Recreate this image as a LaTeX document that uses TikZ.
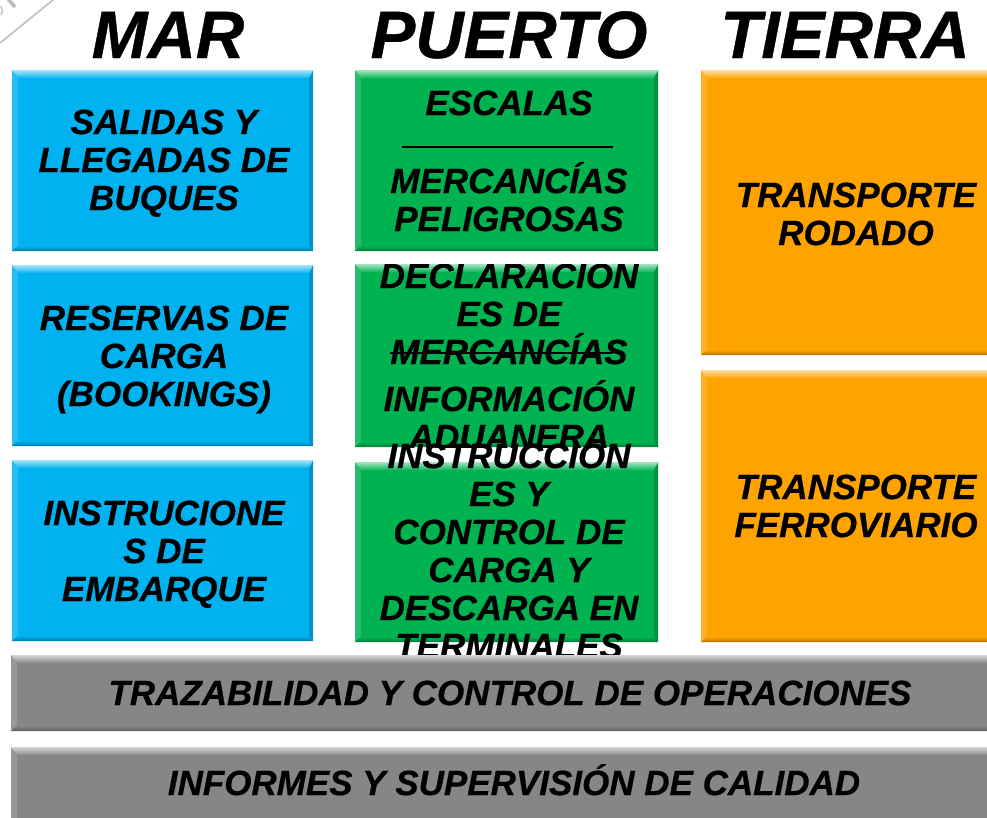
\documentclass[tikz,border=0pt]{standalone}
\usepackage{fontspec}
\setmainfont{Liberation Sans}
\newfontfamily\boxfont[FakeBold=0.6]{Liberation Sans}
\newfontfamily\headfont[FakeBold=0.6]{Liberation Sans}
\definecolor{mblue}{RGB}{0,178,240}
\definecolor{mgreen}{RGB}{0,178,80}
\definecolor{morange}{RGB}{255,163,0}
\definecolor{mgray}{RGB}{134,134,134}
\definecolor{stampgray}{RGB}{190,190,190}
\tikzset{
  panel/.style={inner sep=0pt, outer sep=0pt, draw=none, anchor=north west},
  txt/.style={inner sep=0pt, font=\boxfont\bfseries\itshape\fontsize{35}{38}\selectfont, anchor=base},
  headtxt/.style={inner sep=0pt, font=\headfont\bfseries\itshape\fontsize{67}{70}\selectfont, anchor=base},
  sepline/.style={line width=1.6pt, black},
}
\newcommand\bevel[2]{%
  \fill[#2!85!white] (#1.north west) -- ([xshift=6pt,yshift=-8pt]#1.north west) -- ([xshift=6pt,yshift=5pt]#1.south west) -- (#1.south west) -- cycle;
  \fill[#2!82!black] (#1.north east) -- ([xshift=-4pt,yshift=-8pt]#1.north east) -- ([xshift=-4pt,yshift=5pt]#1.south east) -- (#1.south east) -- cycle;
  \shade[top color=#2, bottom color=#2!70!black] ([xshift=5pt,yshift=5pt]#1.south west) -- ([xshift=-4pt,yshift=5pt]#1.south east) -- (#1.south east) -- (#1.south west) -- cycle;
  \shade[top color=#2!35!white, bottom color=#2!95!white] (#1.north west) -- (#1.north east) -- ([xshift=-4pt,yshift=-8pt]#1.north east) -- ([xshift=6pt,yshift=-8pt]#1.north west) -- cycle;
}
\newcommand\boxlines[4]{%
  \foreach \t [count=\i from 0] in {#4} {\node[txt] (#3-\i) at (#1, #2+38*\i) {\t};}%
}
\begin{document}
\begin{tikzpicture}[x=1pt, y=-1pt]
\useasboundingbox (0,0) rectangle (987,817);
\begin{scope}
\clip (0,0) rectangle (987,817);
\fill[white] (0,0) rectangle (987,817);
% stamp remnants
\draw[stampgray, line width=1.6pt] (0,43) -- (53,0);
\draw[stampgray, line width=3.5pt] (8,-1) -- (15,7);
\draw[stampgray!70, line width=2pt] (0,6) .. controls (3,8) and (3,12) .. (1,15);
% headers
\node[headtxt] (hmar) at (168,58) {MAR};
\node[headtxt] (hpuerto) at (509,58) {PUERTO};
\node[headtxt] (htierra) at (845,58) {TIERRA};
% blue column
\node[panel, fill=mblue, minimum width=301pt, minimum height=181pt] (b1) at (12,70) {};
\node[panel, fill=mblue, minimum width=301pt, minimum height=181pt] (b2) at (12,265) {};
\node[panel, fill=mblue, minimum width=301pt, minimum height=181pt] (b3) at (12,460) {};
\bevel{b1}{mblue}\bevel{b2}{mblue}\bevel{b3}{mblue}
\boxlines{164}{134}{tb1}{SALIDAS Y, LLEGADAS DE, BUQUES}
\boxlines{164}{330}{tb2}{RESERVAS DE, CARGA, (BOOKINGS)}
\boxlines{164}{525}{tb3}{INSTRUCIONE, S DE, EMBARQUE}
% orange column
\node[panel, fill=morange, minimum width=310pt, minimum height=285pt] (o1) at (701,70) {};
\node[panel, fill=morange, minimum width=310pt, minimum height=272pt] (o2) at (701,370) {};
\bevel{o1}{morange}\bevel{o2}{morange}
\boxlines{856}{207}{to1}{TRANSPORTE, RODADO}
\boxlines{856}{499}{to2}{TRANSPORTE, FERROVIARIO}
% green column
\node[panel, fill=mgreen, minimum width=303pt, minimum height=181pt] (g1) at (355,70) {};
\node[panel, fill=mgreen, minimum width=303pt, minimum height=183pt] (g2) at (355,264) {};
\node[panel, fill=mgreen, minimum width=303pt, minimum height=180pt] (g3) at (355,462) {};
\bevel{g1}{mgreen}\bevel{g2}{mgreen}\bevel{g3}{mgreen}
\node[txt] (tg1a) at (509,115) {ESCALAS};
\coordinate (s1a) at (402,147);
\coordinate (s1b) at (613,147);
\draw[sepline] (s1a) -- (s1b);
\boxlines{509}{193}{tg1}{MERCANCÍAS, PELIGROSAS}
\begin{scope}
\clip (g2.north west) rectangle (g2.south east);
\boxlines{509}{288}{tg2}{DECLARACION, ES DE, MERCANCÍAS}
\boxlines{509}{411}{tg2b}{INFORMACIÓN, ADUANERA}
\coordinate (s2a) at (390,353);
\coordinate (s2b) at (613,353);
\draw[sepline] (s2a) -- (s2b);
\end{scope}
\boxlines{509}{468}{tg3}{INSTRUCCION, ES Y, CONTROL DE, CARGA Y, DESCARGA EN, TERMINALES}
% gray bars
\node[panel, fill=mgray, minimum width=1000pt, minimum height=76pt] (r1) at (11,655) {};
\node[panel, fill=mgray, minimum width=1000pt, minimum height=80pt] (r2) at (11,747) {};
\bevel{r1}{mgray}\bevel{r2}{mgray}
\node[txt] (tr1) at (510,705) {TRAZABILIDAD Y CONTROL DE OPERACIONES};
\node[txt] (tr2) at (514,795) {INFORMES Y SUPERVISIÓN DE CALIDAD};
\end{scope}
\end{tikzpicture}
\end{document}
